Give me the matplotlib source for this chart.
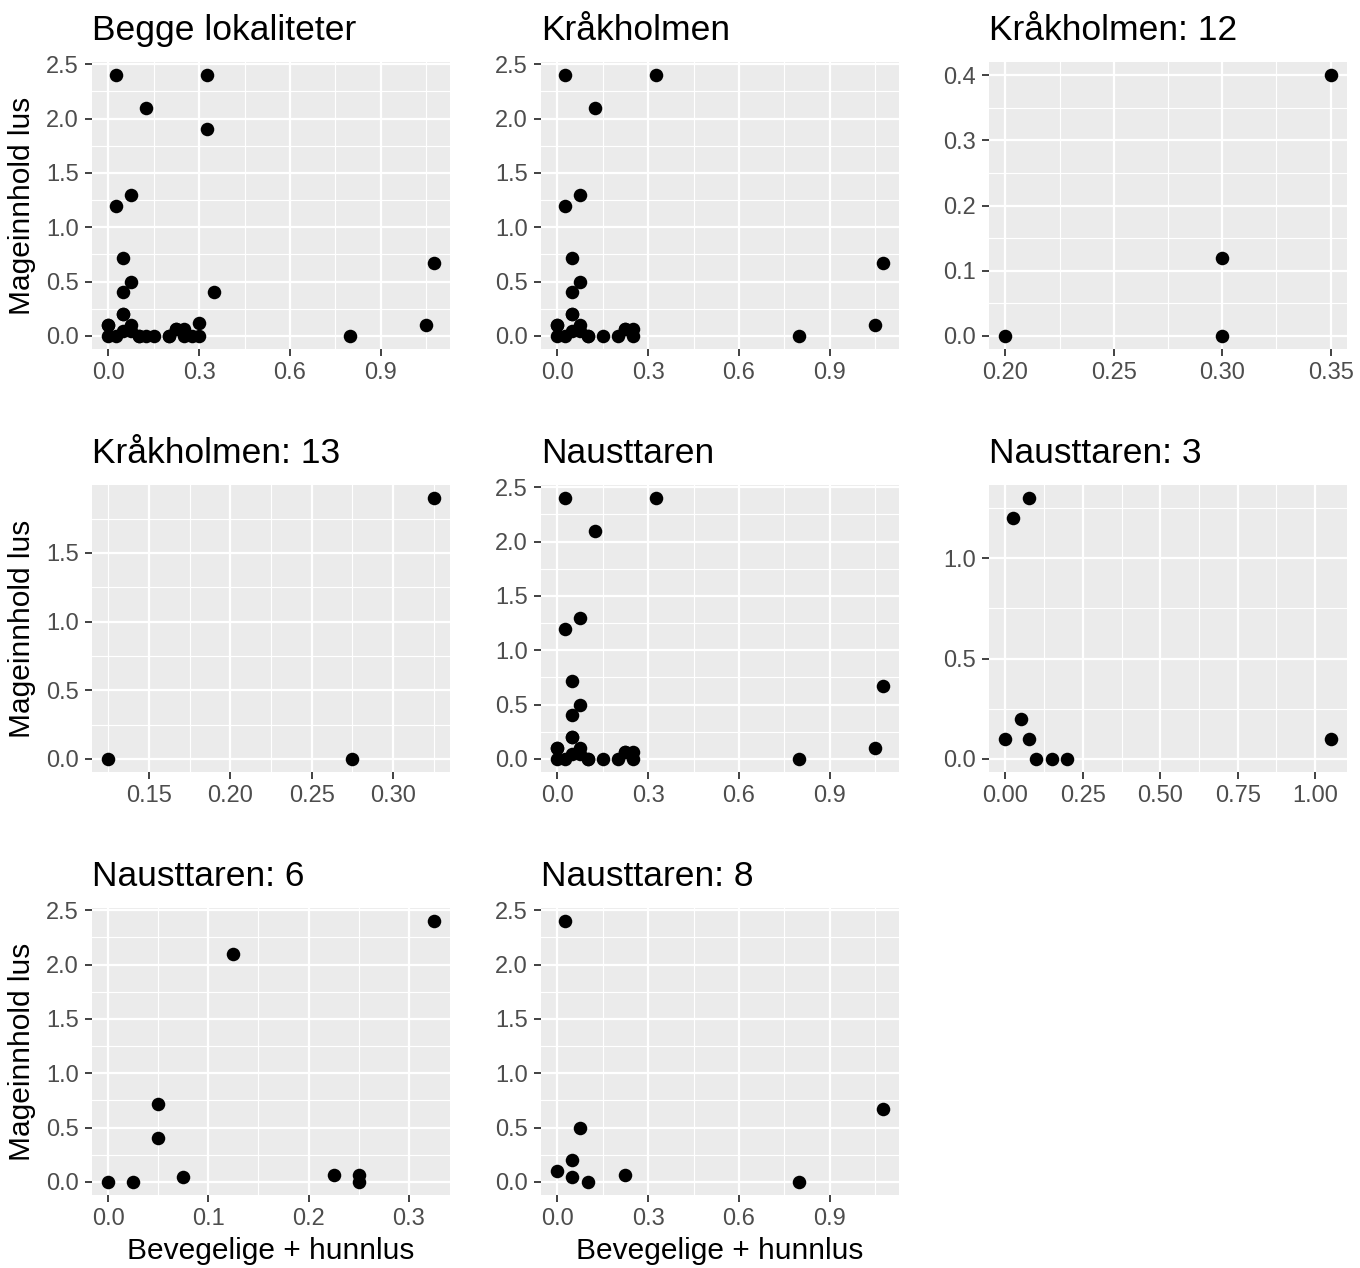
import numpy as np
import matplotlib
matplotlib.use("Agg")
import matplotlib.pyplot as plt

plt.rcParams["font.family"] = ["Liberation Sans", "DejaVu Sans"]

# bevegelige + hunnlus (x) og mageinnhold lus (y) per merd
krak12_x = [0.20, 0.30, 0.30, 0.35]
krak12_y = [0.0, 0.12, 0.0, 0.40]
krak13_x = [0.125, 0.275, 0.325]
krak13_y = [0.0, 0.0, 1.9]
naust3_x = [0.0, 0.025, 0.05, 0.075, 0.075, 0.10, 0.15, 0.20, 1.05]
naust3_y = [0.1, 1.2, 0.2, 1.3, 0.1, 0.0, 0.0, 0.0, 0.1]
naust6_x = [0.0, 0.025, 0.05, 0.05, 0.075, 0.125, 0.225, 0.25, 0.25, 0.325]
naust6_y = [0.0, 0.0, 0.72, 0.40, 0.05, 2.1, 0.065, 0.065, 0.0, 2.4]
naust8_x = [0.0, 0.025, 0.05, 0.05, 0.075, 0.10, 0.225, 0.80, 1.075]
naust8_y = [0.1, 2.4, 0.05, 0.2, 0.5, 0.0, 0.065, 0.0, 0.67]

naust_x = naust3_x + naust6_x + naust8_x
naust_y = naust3_y + naust6_y + naust8_y
alle_x = krak12_x + krak13_x + naust_x
alle_y = krak12_y + krak13_y + naust_y

# tittel, x, y, x-brudd, y-brudd, rad, kolonne
panels = [
    ("Begge lokaliteter", alle_x, alle_y, [0, 0.3, 0.6, 0.9], [0, 0.5, 1, 1.5, 2, 2.5], 0, 0),
    ("Kråkholmen", naust_x, naust_y, [0, 0.3, 0.6, 0.9], [0, 0.5, 1, 1.5, 2, 2.5], 0, 1),
    ("Kråkholmen: 12", krak12_x, krak12_y, [0.2, 0.25, 0.3, 0.35], [0, 0.1, 0.2, 0.3, 0.4], 0, 2),
    ("Kråkholmen: 13", krak13_x, krak13_y, [0.15, 0.2, 0.25, 0.3], [0, 0.5, 1, 1.5], 1, 0),
    ("Nausttaren", naust_x, naust_y, [0, 0.3, 0.6, 0.9], [0, 0.5, 1, 1.5, 2, 2.5], 1, 1),
    ("Nausttaren: 3", naust3_x, naust3_y, [0, 0.25, 0.5, 0.75, 1.0], [0, 0.5, 1.0], 1, 2),
    ("Nausttaren: 6", naust6_x, naust6_y, [0, 0.1, 0.2, 0.3], [0, 0.5, 1, 1.5, 2, 2.5], 2, 0),
    ("Nausttaren: 8", naust8_x, naust8_y, [0, 0.3, 0.6, 0.9], [0, 0.5, 1, 1.5, 2, 2.5], 2, 1),
]

W, H = 1360, 1268
fig = plt.figure(figsize=(W / 100, H / 100), dpi=100)

lefts = [92, 541, 989]
tops = [62, 485, 908]
pw, ph = 358, 287


def expand(vals):
    lo, hi = min(vals), max(vals)
    d = (hi - lo) * 0.05
    return lo - d, hi + d


def minor_breaks(major, lim):
    step = major[1] - major[0]
    mb = np.arange(major[0] - step / 2, major[-1] + step, step)
    return [m for m in mb if lim[0] <= m <= lim[1]]


for title, xs, ys, xb, yb, r, c in panels:
    ax = fig.add_axes([lefts[c] / W, 1 - (tops[r] + ph) / H, pw / W, ph / H])
    ax.set_facecolor("#EBEBEB")
    xl, yl = expand(xs), expand(ys)
    ax.set_xlim(xl)
    ax.set_ylim(yl)
    for v in minor_breaks(xb, xl):
        ax.axvline(v, color="white", lw=0.8, zorder=0.5)
    for v in minor_breaks(yb, yl):
        ax.axhline(v, color="white", lw=0.8, zorder=0.5)
    for v in xb:
        ax.axvline(v, color="white", lw=1.6, zorder=0.6)
    for v in yb:
        ax.axhline(v, color="white", lw=1.6, zorder=0.6)
    ax.scatter(xs, ys, s=95, color="black", linewidths=0, zorder=3)
    ax.set_xticks(xb)
    ax.set_yticks(yb)
    xfmt = "{:.2f}" if title in ("Kråkholmen: 12", "Kråkholmen: 13", "Nausttaren: 3") else "{:.1f}"
    ax.set_xticklabels([xfmt.format(v) for v in xb])
    ax.set_yticklabels(["{:.1f}".format(v) for v in yb])
    ax.tick_params(length=5, width=1.3, color="#333333", labelcolor="#4D4D4D",
                   labelsize=17, pad=4.5)
    for s in ax.spines.values():
        s.set_visible(False)
    ax.set_title(title, loc="left", fontsize=25.5, pad=16)
    if c == 0:
        ax.set_ylabel("Mageinnhold lus", fontsize=21.5, labelpad=7)
    if r == 2:
        ax.set_xlabel("Bevegelige + hunnlus", fontsize=21.5, labelpad=5)

fig.savefig("out.png", dpi=100, facecolor="white")
